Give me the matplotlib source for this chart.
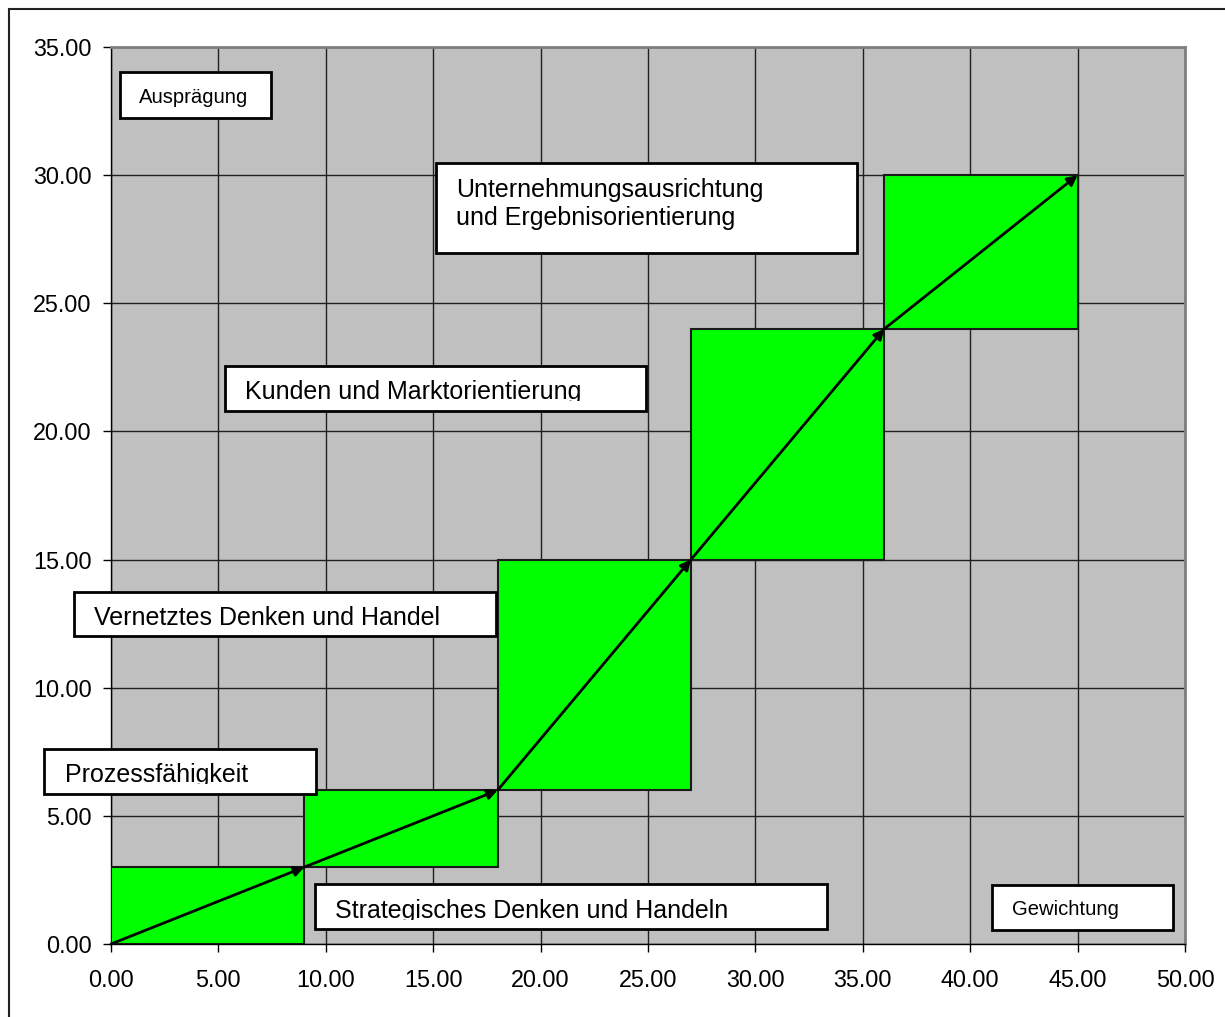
import matplotlib
matplotlib.use("Agg")
import matplotlib.pyplot as plt
from matplotlib.patches import Rectangle
from matplotlib.transforms import Bbox
import numpy as np

plt.rcParams['font.family'] = ['Liberation Sans', 'DejaVu Sans']

# Kompetenzfelder: Gewichtung (x-Schritt) und Ausprägung (y-Schritt)
kompetenzen = [
    "Strategisches Denken und Handeln",
    "Prozessfähigkeit",
    "Vernetztes Denken und Handel",
    "Kunden und Marktorientierung",
    "Unternehmungsausrichtung\nund Ergebnisorientierung",
]
gewichtung = [9, 9, 9, 9, 9]
auspraegung = [3, 3, 9, 9, 6]

x_ticks = [0, 5, 10, 15, 20, 25, 30, 35, 40, 45, 50]
y_ticks = [0, 5, 10, 15, 20, 25, 30, 35]

W, H = 1225, 1017
fig = plt.figure(figsize=(W / 100, H / 100), dpi=100)

def fx(px):
    return px / W

def fy(py):
    return 1 - py / H

# outer chart frame
fig.patches.append(Rectangle((fx(9), fy(1030)), fx(1240) - fx(9), fy(9) - fy(1030),
                             transform=fig.transFigure, fill=False,
                             edgecolor='#222222', lw=1.5, zorder=0))

ax = fig.add_axes([fx(111), fy(944), fx(1185) - fx(111), fy(47) - fy(944)])
ax.set_facecolor('#C0C0C0')
ax.set_xlim(0, 50)
ax.set_ylim(0, 35)
ax.set_xticks(x_ticks)
ax.set_yticks(y_ticks)
ax.set_xticklabels([f"{v:.2f}" for v in x_ticks])
ax.set_yticklabels([f"{v:.2f}" for v in y_ticks])
ax.tick_params(axis='both', direction='out', length=6, width=1, color='black',
               labelsize=16.8)
ax.tick_params(axis='x', pad=12)
ax.tick_params(axis='y', pad=8)
ax.grid(True, color='#202020', lw=1)
ax.set_axisbelow(True)
for s in ('left', 'bottom'):
    ax.spines[s].set_color('black')
    ax.spines[s].set_linewidth(1)
for s in ('top', 'right'):
    ax.spines[s].set_color('#808080')
    ax.spines[s].set_linewidth(2)

# cumulative positions
xs = np.concatenate([[0], np.cumsum(gewichtung)])
ys = np.concatenate([[0], np.cumsum(auspraegung)])

for i in range(len(gewichtung)):
    ax.add_patch(Rectangle((xs[i], ys[i]), gewichtung[i], auspraegung[i],
                           facecolor='#00FF00', edgecolor='#1a1a1a', lw=1.5, zorder=3))

for i in range(len(gewichtung)):
    ax.annotate("", xy=(xs[i + 1], ys[i + 1]), xytext=(xs[i], ys[i]),
                arrowprops=dict(arrowstyle='-|>', color='black', lw=2,
                                mutation_scale=15, shrinkA=0, shrinkB=0),
                zorder=4)

def label_box(x0, y0, x1, y1, text, tx, ty, size, clip_bottom=None):
    fig.patches.append(Rectangle((fx(x0), fy(y1)), fx(x1) - fx(x0), fy(y0) - fy(y1),
                                 transform=fig.transFigure, facecolor='white',
                                 edgecolor='black', lw=2, zorder=5))
    t = fig.text(fx(tx), fy(ty), text, fontsize=size, ha='left', va='baseline',
                 zorder=6, linespacing=1.2)
    cb = clip_bottom if clip_bottom is not None else y1
    t.set_clip_box(Bbox.from_extents(x0, H - cb, x1, H - y0))
    t.set_clip_on(True)

label_box(120, 72, 271, 118, "Ausprägung", 139, 103, 14.6)
label_box(992, 885, 1173, 930, "Gewichtung", 1012, 915, 14.6)
label_box(315, 884, 827, 929, kompetenzen[0], 335, 918, 18, clip_bottom=920)
label_box(44, 749, 316, 794, kompetenzen[1], 65, 782, 18, clip_bottom=784)
label_box(74, 592, 496, 636, kompetenzen[2], 94, 625, 18)
label_box(225, 366, 646, 411, kompetenzen[3], 245, 399, 18, clip_bottom=401)
label_box(436, 163, 857, 253, kompetenzen[4], 456, 225, 18)

fig.savefig("out.png", dpi=100)
